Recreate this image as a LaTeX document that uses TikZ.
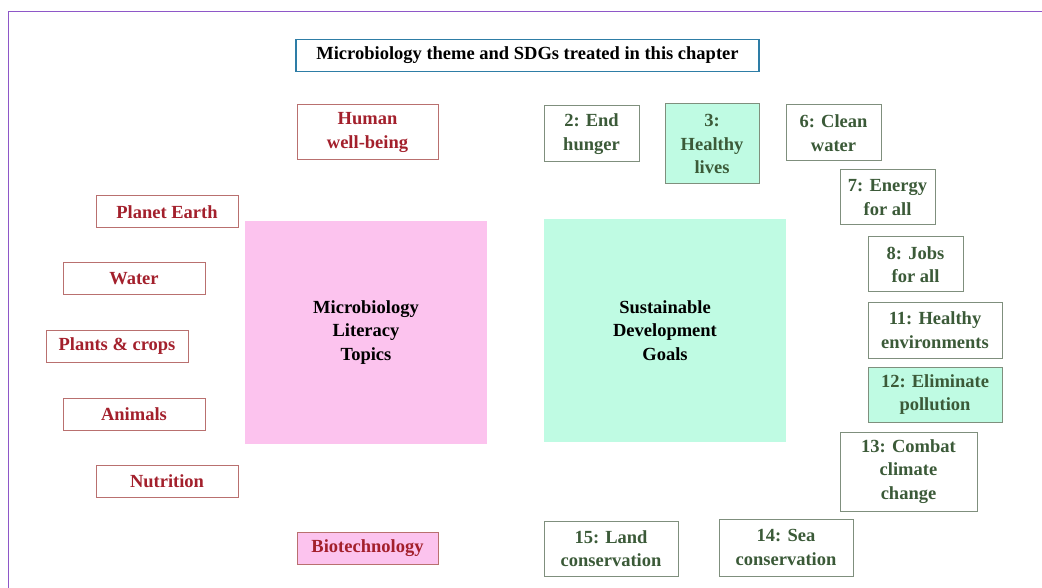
\documentclass[tikz,border=0pt]{standalone}
\usepackage{fontspec}
\setmainfont{Liberation Serif}
\usetikzlibrary{positioning}

\definecolor{frame}{HTML}{8E57C8}
\definecolor{titleblue}{HTML}{2E7DA6}
\definecolor{topicred}{HTML}{A3202C}
\definecolor{topicline}{HTML}{B9706F}
\definecolor{goalgreen}{HTML}{3B5A38}
\definecolor{goalline}{HTML}{7F8F7D}
\definecolor{pinkfill}{HTML}{FCC3EE}
\definecolor{mintfill}{HTML}{BFFBE3}

\tikzset{
  txt/.style={font=\fontsize{18.5}{23.5}\selectfont\bfseries, align=center, inner sep=0pt},
  topicbox/.style={txt, draw=topicline, text=topicred, line width=1pt, minimum width=142pt, minimum height=32pt},
  goalbox/.style={txt, draw=goalline, text=goalgreen, line width=1pt, minimum width=95pt, minimum height=56pt},
  bigsquare/.style={txt, minimum width=242pt, minimum height=223pt, text=black}
}

\begin{document}
\begin{tikzpicture}[x=1pt,y=-1pt,line cap=round]

                \useasboundingbox (0,0) rectangle (1042,588);
                \draw [frame, line width=1.5pt] (8.5,600) |- (1050,11.5);

                \node[txt, draw=titleblue, line width=1.5pt, minimum width=463pt, minimum height=32pt] (title) at (527.5,55.5) {Microbiology theme and SDGs treated in this chapter};

                % literacy topics
                \node[bigsquare, fill=pinkfill] (mlt) at (366,332.5) {Microbiology\\Literacy\\Topics};
                \node[topicbox, minimum width=141pt, minimum height=55pt] (human) at (367.5,132.5) {Human\\well-being};
                \node[topicbox] (planet) at (167,212) {Planet Earth};
                \node[topicbox] (water) at (134,279) {Water};
                \node[topicbox] (plants) at (117,346) {Plants \& crops};
                \node[topicbox] (animals) at (134,414) {Animals};
                \node[topicbox] (nutrition) at (167,481) {Nutrition};
                \node[topicbox, minimum width=141pt, fill=pinkfill] (biotech) at (367.5,548) {Biotechnology};

                % sustainable development goals
                \node[bigsquare, fill=mintfill] (sdg) at (665,330.5) {Sustainable\\Development\\Goals};
                \node[goalbox] (g2) at (591.5,134) {2: End\\hunger};
                \node[goalbox, minimum width=94pt, minimum height=80pt, fill=mintfill] (g3) at (712,144) {3:\\Healthy\\lives};
                \node[goalbox] (g6) at (833.5,133) {6: Clean\\water};
                \node[goalbox, minimum height=55pt] (g7) at (887.5,197.5) {7: Energy\\for all};
                \node[goalbox, minimum height=55pt] (g8) at (915.5,264.5) {8: Jobs\\for all};
                \node[goalbox, minimum width=134pt] (g11) at (935,330) {11: Healthy\\environments};
                \node[goalbox, minimum width=134pt, minimum height=55pt, fill=mintfill] (g12) at (935,394.5) {12: Eliminate\\pollution};
                \node[goalbox, minimum width=137pt, minimum height=79pt] (g13) at (908.5,471.5) {13: Combat\\climate\\change};
                \node[goalbox, minimum width=134pt, minimum height=55pt] (g15) at (611,548.5) {15: Land\\conservation};
                \node[goalbox, minimum width=134pt, minimum height=57pt] (g14) at (786,547.5) {14: Sea\\conservation};

\end{tikzpicture}
\end{document}
